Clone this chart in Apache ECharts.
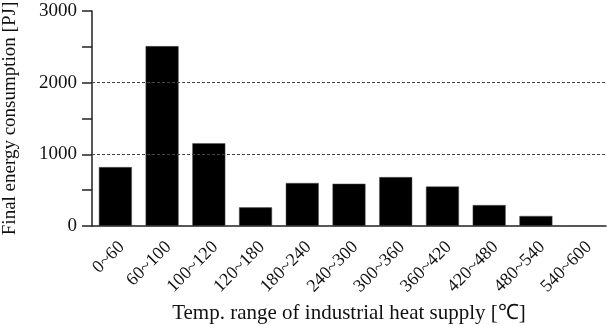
<!DOCTYPE html>
<html><head><meta charset="utf-8">
<script src="https://cdn.jsdelivr.net/npm/echarts@6/dist/echarts.min.js"></script>
<style>html,body{margin:0;padding:0;background:#fff}#c{width:607px;height:326px}</style>
</head><body><div id="c"></div>
<script>
const categories = ['0~60','60~100','100~120','120~180','180~240','240~300','300~360','360~420','420~480','480~540','540~600'];
const energyPJ = [822, 2510, 1155, 260, 600, 590, 682, 552, 292, 140, 0];
const gridLines = [1000, 2000];
const FONT = 'Liberation Serif';
const chart = echarts.init(document.getElementById('c'));
chart.setOption({
  animation: false,
  grid: {left: 92, right: 1, top: 11, bottom: 100, containLabel: false, outerBoundsMode: 'none'},
  xAxis: {
    type: 'category', data: categories,
    axisLine: {lineStyle: {color: '#222', width: 1.5}},
    axisTick: {alignWithLabel: false, length: 9, lineStyle: {color: '#222', width: 1.5}},
    axisLabel: {rotate: 45, color: '#111', fontFamily: FONT, fontSize: 18, margin: 12, interval: 0, verticalAlign: 'top'},
    name: 'Temp. range of industrial heat supply [\u2103]', nameLocation: 'middle', nameGap: 76,
    nameTextStyle: {color: '#111', fontFamily: FONT, fontSize: 21}
  },
  yAxis: {
    type: 'value', min: 0, max: 3000, interval: 500,
    axisLine: {show: true, lineStyle: {color: '#222', width: 1.5}},
    axisTick: {show: true, length: 10, lineStyle: {color: '#222', width: 1.5}},
    splitLine: {show: false},
    axisLabel: {color: '#111', fontFamily: FONT, fontSize: 19, margin: 15,
      formatter: v => (v % 1000 === 0 ? String(v) : '')},
    name: 'Final energy consumption [PJ]', nameLocation: 'middle', nameGap: 72,
    nameTextStyle: {color: '#111', fontFamily: FONT, fontSize: 19}
  },
  series: [{
    type: 'bar', data: energyPJ, barWidth: 33,
    itemStyle: {color: '#000', borderColor: '#555', borderWidth: 0.5},
    markLine: {
      silent: true, symbol: 'none', label: {show: false},
      lineStyle: {type: [3, 2], color: '#444', width: 1.2},
      data: gridLines.map(v => ({yAxis: v}))
    },
    z: 3
  }]
});
</script></body></html>
